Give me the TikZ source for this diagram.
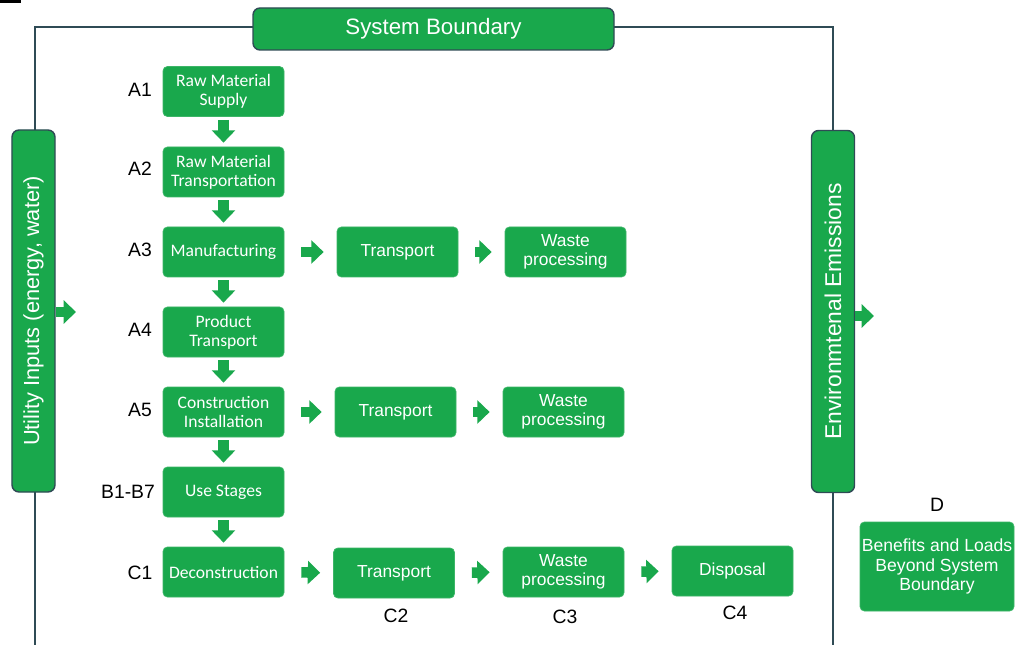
\documentclass[tikz,border=0pt]{standalone}
\usepackage{fontspec}
\setmainfont{Liberation Sans}
\newfontfamily\calibri{Carlito}
\usetikzlibrary{arrows.meta}
\definecolor{lcagreen}{HTML}{19A84C}
\definecolor{lcaedge}{HTML}{2F4B55}
\tikzset{
  stage/.style={rectangle, rounded corners=2.5pt, fill=lcagreen, draw=lcagreen!85!white, text=white,
    minimum width=2.42cm, minimum height=1cm, inner sep=1pt, align=center,
    font=\calibri\fontsize{10}{11}\selectfont},
  plainstage/.style={stage, font=\fontsize{9.9}{11}\selectfont},
  sidebar/.style={rectangle, rounded corners=4pt, fill=lcagreen, draw=lcaedge, line width=0.8pt, text=white,
    minimum width=7.24cm, minimum height=0.86cm, rotate=90},
  stagelabel/.style={font=\fontsize{11}{13}\selectfont, inner sep=0pt},
  flowarrow/.style={draw=lcagreen, line width=6pt, -{Triangle[length=7pt,width=13pt]}},
  downarrow/.style={flowarrow, shorten <=0.6mm, shorten >=0.8mm},
  sidearrow/.style={flowarrow, shorten <=3.4mm, shorten >=2.6mm}
}
\newcommand{\lcastage}[3] {\node at (#1) (#2) [stage] {#3};}
\newcommand{\lcaplain}[3] {\node at (#1) (#2) [plainstage] {#3};}
\newcommand{\lcalabel}[3] {\node at (#1) (#2) [stagelabel] {#3};}
\newcommand{\lcadown}[2] {\draw [downarrow] (#1.south) -- (#2.north);}
\newcommand{\lcaside}[2] {\draw [sidearrow] (#1.east) -- (#2.west);}

\begin{document}
\begin{tikzpicture}[x=0.2mm, y=-0.2mm]
\useasboundingbox (0,0) rectangle (1019,645);
\fill (0,0) rectangle (21,3.5);

% system boundary frame
\draw [lcaedge, line width=0.8pt] (35,645) -- (35,27) -- (833,27) -- (833,645);
\node at (433.5,29) (sysbound) [rectangle, rounded corners=4pt, fill=lcagreen, draw=lcaedge, line width=0.8pt,
  text=white, minimum width=7.22cm, minimum height=0.84cm, font=\fontsize{12.7}{14}\selectfont] {System Boundary};

\node at (33.5,311) (util) [sidebar, font=\fontsize{12.4}{14}\selectfont] {Utility Inputs (energy, water)};
\node at (833,311.5) (env) [sidebar, font=\fontsize{13}{15}\selectfont] {Environmtenal Emissions};
\coordinate (utilout) at (76,312);
\coordinate (envout) at (874,316);
\draw [flowarrow] (util.south |- utilout) -- (utilout);
\draw [flowarrow] (env.south |- envout) -- (envout);

% stages
\lcastage {223.5,91.5} {rawsupply} {Raw Material\\Supply};
\lcastage {223.5,172} {rawtrans} {Raw Material\\Transportation};
\lcastage {223.5,252} {manuf} {Manufacturing};
\lcastage {223.5,332} {prodtrans} {Product\\Transport};
\lcastage {223.5,412} {constr} {Construction\\Installation};
\lcastage {223.5,492} {usestage} {Use Stages};
\lcastage {223.5,572} {decon} {Deconstruction};

\lcaplain {397.5,252} {transA} {Transport};
\lcaplain {565.5,252} {wasteA} {Waste\\processing};
\lcaplain {395.5,412} {transB} {Transport};
\lcaplain {563.5,412} {wasteB} {Waste\\processing};
\lcaplain {394,573} {transC} {Transport};
\lcaplain {563.5,572} {wasteC} {Waste\\processing};
\lcaplain {732.5,571} {disposal} {Disposal};

\node at (937,566.5) (beyond) [plainstage, minimum width=3.08cm, minimum height=1.78cm,
  font=\fontsize{10}{11}\selectfont] {Benefits and Loads\\Beyond System\\Boundary};

% labels
\lcalabel {140,90} {lA1} {A1};
\lcalabel {140,169} {lA2} {A2};
\lcalabel {140,250} {lA3} {A3};
\lcalabel {140,330} {lA4} {A4};
\lcalabel {140,410} {lA5} {A5};
\lcalabel {128,492} {lB} {B1-B7};
\lcalabel {140,573} {lC1} {C1};
\lcalabel {396,616} {lC2} {C2};
\lcalabel {565,617} {lC3} {C3};
\lcalabel {735,613} {lC4} {C4};
\lcalabel {937,505} {lD} {D};

% arrows
\lcadown{rawsupply}{rawtrans};
\lcadown{rawtrans}{manuf};
\lcadown{manuf}{prodtrans};
\lcadown{prodtrans}{constr};
\lcadown{constr}{usestage};
\lcadown{usestage}{decon};
\lcaside{manuf}{transA};
\lcaside{transA}{wasteA};
\lcaside{constr}{transB};
\lcaside{transB}{wasteB};
\lcaside{decon}{transC};
\lcaside{transC}{wasteC};
\lcaside{wasteC}{disposal};

\end{tikzpicture}
\end{document}
